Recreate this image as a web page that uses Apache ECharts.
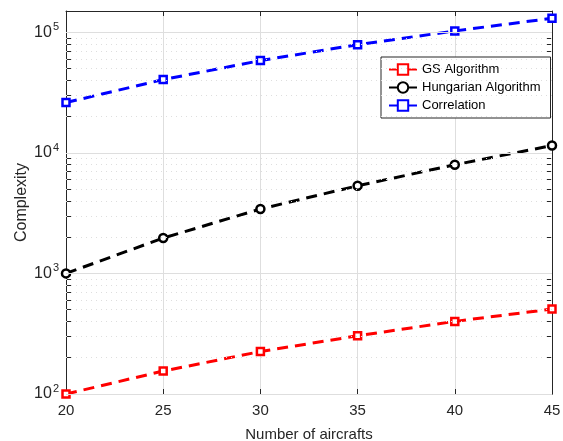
<!DOCTYPE html>
<html>
<head>
<meta charset="utf-8">
<script src="https://cdn.jsdelivr.net/npm/echarts@6/dist/echarts.min.js"></script>
<style>
  html, body { margin: 0; padding: 0; background: #fff; }
  #chart { width: 563px; height: 441px; }
</style>
</head>
<body>
<div id="chart"></div>
<script>
const aircrafts = [20, 25, 30, 35, 40, 45]
const gsAlgorithm = [100, 155, 225, 304, 400, 506]
const hungarianAlgorithm = [1000, 1965, 3417, 5330, 7960, 11490]
const correlation = [26100, 40500, 58200, 78900, 102500, 130600]

const majorTicks = [100, 1000, 10000, 100000]
const minorTicks = [200, 300, 400, 500, 600, 700, 800, 900,
  2000, 3000, 4000, 5000, 6000, 7000, 8000, 9000,
  20000, 30000, 40000, 50000, 60000, 70000, 80000, 90000]

const font = 'Liberation Sans, Arial, sans-serif'
const axisColor = '#262626'

const chart = echarts.init(document.getElementById('chart'))

const pairs = vals => aircrafts.map((x, i) => [x, vals[i]])

const lineSeries = (name, vals, color, symbol) => ({
  name: name,
  type: 'line',
  data: pairs(vals),
  z: 3,
  symbol: symbol,
  symbolSize: symbol === 'circle' ? 8 : 7,
  itemStyle: { color: '#fff', borderColor: color, borderWidth: 2.5 },
  lineStyle: { color: color, width: 3, type: [11, 7] },
  emphasis: { disabled: true }
})

const gridLines = (vals, type) => vals.map(v => ({
  yAxis: v,
  lineStyle: { color: '#dedede', width: 1, type: type }
}))

const option = {
  backgroundColor: '#fff',
  animation: false,
  grid: { left: 66, right: 11, top: 11, bottom: 47, outerBoundsMode: 'none' },
  legend: {
    orient: 'vertical',
    left: 381,
    top: 57,
    padding: [6, 10, 6, 7],
    itemGap: 5,
    itemWidth: 28,
    itemHeight: 13,
    backgroundColor: '#fff',
    borderColor: axisColor,
    borderWidth: 1,
    textStyle: { fontFamily: font, fontSize: 13, color: '#000' },
    data: ['GS Algorithm', 'Hungarian Algorithm', 'Correlation']
  },
  xAxis: [
    {
      type: 'value',
      min: 20,
      max: 45,
      interval: 5,
      name: 'Number of aircrafts',
      nameLocation: 'middle',
      nameGap: 33,
      nameTextStyle: { fontFamily: font, fontSize: 15, color: axisColor },
      axisLine: { lineStyle: { color: axisColor, width: 1 } },
      axisTick: { inside: true, length: 5, lineStyle: { color: axisColor } },
      axisLabel: { fontFamily: font, fontSize: 15, color: axisColor, margin: 9 },
      splitLine: { show: true, lineStyle: { color: '#dedede', width: 1 } }
    },
    {
      type: 'value',
      position: 'top',
      min: 20,
      max: 45,
      interval: 5,
      axisLine: { lineStyle: { color: axisColor, width: 1 } },
      axisTick: { inside: true, length: 5, lineStyle: { color: axisColor } },
      axisLabel: { show: false },
      splitLine: { show: false }
    }
  ],
  yAxis: [
    {
      type: 'log',
      position: 'left',
      min: 100,
      max: 150000,
      name: 'Complexity',
      nameLocation: 'middle',
      nameGap: 36,
      nameMoveOverlap: false,
      nameTextStyle: { fontFamily: font, fontSize: 16, color: axisColor },
      axisLine: { lineStyle: { color: axisColor, width: 1 } },
      axisTick: {
        inside: true,
        length: 5,
        customValues: majorTicks.concat(minorTicks),
        lineStyle: { color: axisColor }
      },
      axisLabel: {
        customValues: majorTicks,
        margin: 7,
        formatter: v => '{b|10}{e|' + Math.round(Math.log10(v)) + '}',
        rich: {
          b: { fontFamily: font, fontSize: 16, color: axisColor },
          e: { fontFamily: font, fontSize: 11, color: axisColor, padding: [0, 0, 10, 1] }
        }
      },
      splitLine: { show: false }
    },
    {
      type: 'log',
      position: 'right',
      min: 100,
      max: 150000,
      axisLine: { lineStyle: { color: axisColor, width: 1 } },
      axisTick: {
        inside: true,
        length: 5,
        customValues: majorTicks.concat(minorTicks),
        lineStyle: { color: axisColor }
      },
      axisLabel: { show: false },
      splitLine: { show: false }
    }
  ],
  series: [
    {
      name: 'grid',
      type: 'line',
      data: [],
      z: 1,
      silent: true,
      markLine: {
        silent: true,
        symbol: 'none',
        label: { show: false },
        animation: false,
        data: gridLines(majorTicks, 'solid').concat(gridLines(minorTicks, [1, 4]))
      }
    },
    lineSeries('GS Algorithm', gsAlgorithm, '#ff0000', 'rect'),
    lineSeries('Hungarian Algorithm', hungarianAlgorithm, '#000000', 'circle'),
    lineSeries('Correlation', correlation, '#0000ff', 'rect')
  ]
}

chart.setOption(option)
</script>
</body>
</html>
